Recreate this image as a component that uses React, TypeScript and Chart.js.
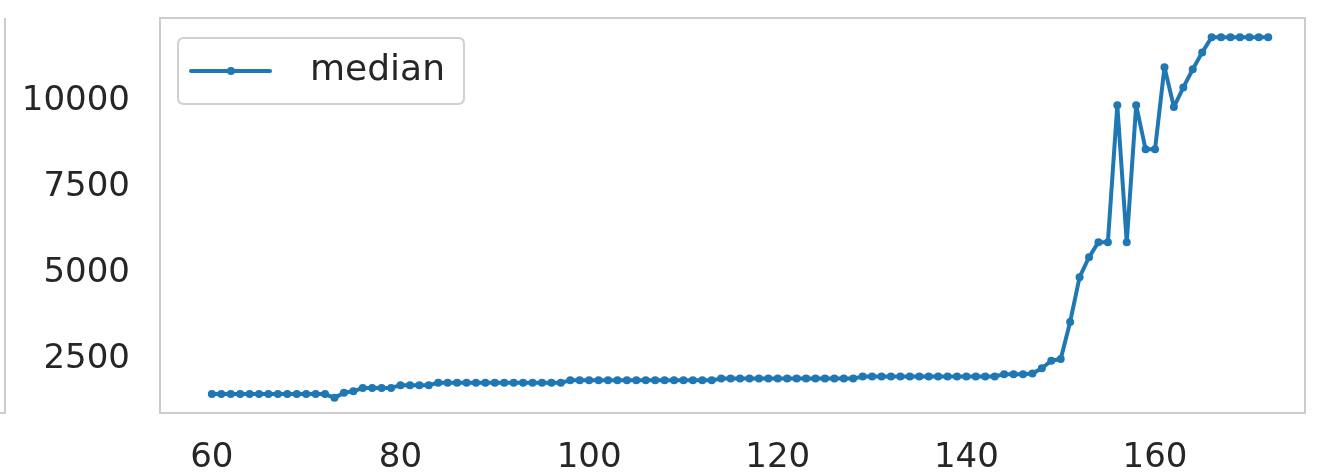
import React, { useEffect, useRef } from "react";
import { Chart, registerables } from "chart.js";

Chart.register(...registerables);

const xValues: number[] = [];
for (let i = 60; i <= 172; i++) xValues.push(i);

// median values for x = 60 .. 172
const medianValues: number[] = [
  // 60-72
  1480, 1480, 1480, 1480, 1480, 1480, 1480, 1480, 1480, 1480, 1480, 1480, 1480,
  // 73-75
  1370, 1520, 1560,
  // 76-79
  1660, 1660, 1660, 1660,
  // 80-83
  1740, 1740, 1740, 1740,
  // 84-97
  1810, 1810, 1810, 1810, 1810, 1810, 1810, 1810, 1810, 1810, 1810, 1810, 1810, 1810,
  // 98-113
  1880, 1880, 1880, 1880, 1880, 1880, 1880, 1880, 1880, 1880, 1880, 1880, 1880, 1880, 1880, 1880,
  // 114-128
  1930, 1930, 1930, 1930, 1930, 1930, 1930, 1930, 1930, 1930, 1930, 1930, 1930, 1930, 1930,
  // 129-143
  1990, 1990, 1990, 1990, 1990, 1990, 1990, 1990, 1990, 1990, 1990, 1990, 1990, 1990, 1990,
  // 144-150
  2060, 2060, 2060, 2080, 2230, 2450, 2500,
  // 151-165
  3580, 4880, 5460, 5900, 5900, 9880, 5900, 9880, 8600, 8600, 10990, 9830, 10400, 10930, 11420,
  // 166-172
  11860, 11860, 11860, 11860, 11860, 11860, 11860,
];

const xTicks: number[] = [60, 80, 100, 120, 140, 160];
const yTicks: number[] = [2500, 5000, 7500, 10000];
const seriesLabel = "median";

const BLUE = "#1f77b4";
const FONT = "'DejaVu Sans', sans-serif";

const framePlugin = {
  id: "frameAndLegend",
  afterDraw(chart: any) {
    const { ctx, chartArea } = chart;
    const { left, right, top, bottom } = chartArea;
    ctx.save();
    // frame
    ctx.strokeStyle = "#cccccc";
    ctx.lineWidth = 2;
    ctx.strokeRect(left, top, right - left, bottom - top);
    // neighbouring subplot edge at far left
    ctx.beginPath();
    ctx.moveTo(5, top);
    ctx.lineTo(5, bottom);
    ctx.lineTo(0, bottom);
    ctx.stroke();

    // legend
    const bx = left + 18;
    const by = top + 20;
    const bw = 286;
    const bh = 66;
    const r = 6;
    ctx.beginPath();
    ctx.moveTo(bx + r, by);
    ctx.lineTo(bx + bw - r, by);
    ctx.quadraticCurveTo(bx + bw, by, bx + bw, by + r);
    ctx.lineTo(bx + bw, by + bh - r);
    ctx.quadraticCurveTo(bx + bw, by + bh, bx + bw - r, by + bh);
    ctx.lineTo(bx + r, by + bh);
    ctx.quadraticCurveTo(bx, by + bh, bx, by + bh - r);
    ctx.lineTo(bx, by + r);
    ctx.quadraticCurveTo(bx, by, bx + r, by);
    ctx.closePath();
    ctx.fillStyle = "rgba(255,255,255,0.8)";
    ctx.fill();
    ctx.strokeStyle = "#d0d0d0";
    ctx.lineWidth = 2;
    ctx.stroke();

    const ly = by + bh / 2;
    ctx.strokeStyle = BLUE;
    ctx.lineWidth = 4;
    ctx.lineCap = "round";
    ctx.beginPath();
    ctx.moveTo(bx + 13, ly);
    ctx.lineTo(bx + 92, ly);
    ctx.stroke();
    ctx.fillStyle = BLUE;
    ctx.beginPath();
    ctx.arc(bx + 53, ly, 4, 0, Math.PI * 2);
    ctx.fill();

    ctx.fillStyle = "#262626";
    ctx.font = `36px ${FONT}`;
    ctx.textBaseline = "middle";
    ctx.textAlign = "left";
    ctx.fillText(seriesLabel, bx + 132, ly);
    ctx.restore();
  },
};

export default function App() {
  const canvasRef = useRef<HTMLCanvasElement | null>(null);

  useEffect(() => {
    const canvas = canvasRef.current;
    if (!canvas) return;
    const data = xValues.map((x, i) => ({ x, y: medianValues[i] }));
    const chart = new Chart(canvas, {
      type: "line",
      data: {
        datasets: [
          {
            label: seriesLabel,
            data,
            borderColor: BLUE,
            backgroundColor: BLUE,
            borderWidth: 4,
            borderJoinStyle: "round",
            borderCapStyle: "round",
            pointRadius: 4,
            pointBorderWidth: 0,
            pointBackgroundColor: BLUE,
            tension: 0,
          },
        ],
      },
      options: {
        responsive: false,
        animation: false,
        layout: { padding: { left: 0, right: 14, top: 18, bottom: 0 } },
        plugins: {
          legend: { display: false },
          tooltip: { enabled: false },
        },
        scales: {
          x: {
            type: "linear",
            min: 54.5,
            max: 175.9,
            grid: { display: false, drawTicks: false },
            border: { display: false },
            ticks: {
              color: "#262626",
              font: { family: FONT, size: 34 },
              padding: 25,
              maxRotation: 0,
              callback: (v: any) => String(v),
            },
            afterBuildTicks: (scale: any) => {
              scale.ticks = xTicks.map((v) => ({ value: v }));
            },
            afterFit: (scale: any) => {
              scale.height = 61;
              scale.paddingLeft = 0;
              scale.paddingRight = 0;
            },
          },
          y: {
            type: "linear",
            min: 930,
            max: 12420,
            grid: { display: false, drawTicks: false },
            border: { display: false },
            ticks: {
              color: "#262626",
              font: { family: FONT, size: 34 },
              padding: 30,
              callback: (v: any) => String(v),
            },
            afterBuildTicks: (scale: any) => {
              scale.ticks = yTicks.map((v) => ({ value: v }));
            },
            afterFit: (scale: any) => {
              scale.width = 160;
              scale.paddingTop = 0;
              scale.paddingBottom = 0;
            },
          },
        },
      },
      plugins: [framePlugin],
    });
    return () => chart.destroy();
  }, []);

  return (
    <div style={{ position: "fixed", left: 0, top: 0, width: 1319, height: 474, background: "#ffffff" }}>
      <canvas ref={canvasRef} width={1319} height={474} style={{ display: "block" }} />
    </div>
  );
}
